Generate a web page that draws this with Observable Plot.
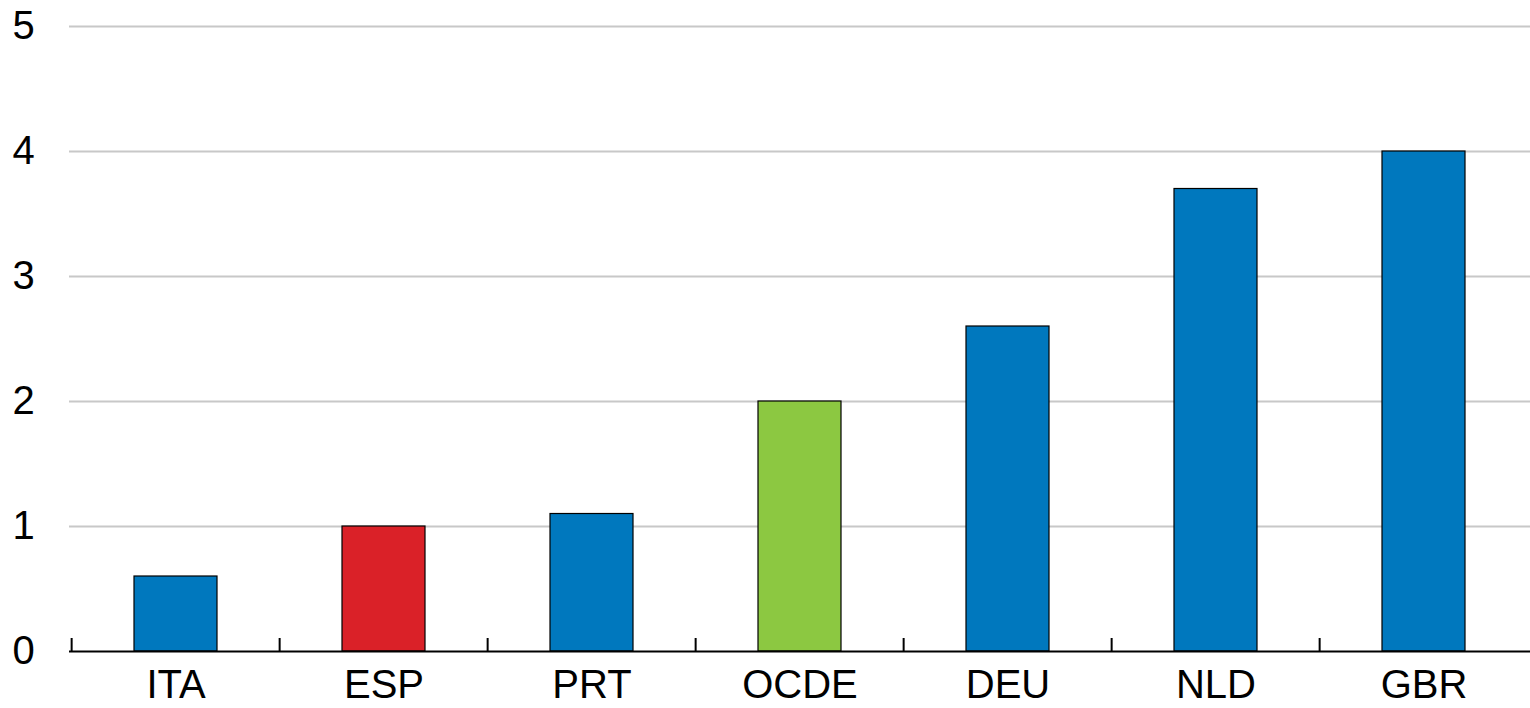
<!DOCTYPE html>
<html>
<head>
<meta charset="utf-8">
<script src="https://cdn.jsdelivr.net/npm/d3@7"></script>
<script src="https://cdn.jsdelivr.net/npm/@observablehq/plot@0.6"></script>
<style>
  html, body { margin: 0; padding: 0; background: #fff; }
  #chart svg { display: block; }
</style>
</head>
<body>
<div id="chart"></div>
<script>
const categories = ["ITA", "ESP", "PRT", "OCDE", "DEU", "NLD", "GBR"];
const values = [0.6, 1.0, 1.1, 2.0, 2.6, 3.7, 4.0];
const colorKeys = ["other", "esp", "other", "oecd", "other", "other", "other"];
const yTicks = [0, 1, 2, 3, 4, 5];

const data = categories.map((c, i) => ({country: c, value: values[i], key: colorKeys[i]}));

const W = 1530, H = 708;
const mL = 69, mR = 0, mT = 26, mB = 57;
const step = (W - mL - mR) / categories.length;
const tickLen = 13 / ((H - mT - mB) / 5);
const font = "'Liberation Sans Narrow', 'Arial Narrow', 'Liberation Sans', Arial, sans-serif";

const chart = Plot.plot({
  width: W,
  height: H,
  marginLeft: mL,
  marginRight: mR,
  marginTop: mT,
  marginBottom: mB,
  style: {fontFamily: font, fontSize: "40px", color: "#000", background: "#fff"},
  x: {domain: categories, paddingInner: 0.6, paddingOuter: 0.3, label: null},
  y: {domain: [0, 5], label: null},
  color: {domain: ["other", "esp", "oecd"], range: ["#0078BE", "#DA2128", "#8CC841"]},
  marks: [
    Plot.gridY(yTicks.filter(d => d > 0), {stroke: "#c8c8c8", strokeOpacity: 1, strokeWidth: 2}),
    Plot.barY(data, {x: "country", y: "value", fill: "key", stroke: "#000", strokeWidth: 1.2}),
    Plot.ruleY([0], {stroke: "#000", strokeWidth: 2}),
    Plot.ruleX(categories, {x: d => d, dx: -step / 2, y1: 0, y2: tickLen, stroke: "#000", strokeWidth: 2}),
    Plot.axisX({tickSize: 0, tickPadding: 18, fontSize: 40, label: null}),
    Plot.axisY({ticks: yTicks, tickFormat: d3.format("d"), tickSize: 0, tickPadding: 0, textAnchor: "start", dx: -57, fontSize: 40, label: null})
  ]
});
document.getElementById("chart").appendChild(chart);
</script>
</body>
</html>
